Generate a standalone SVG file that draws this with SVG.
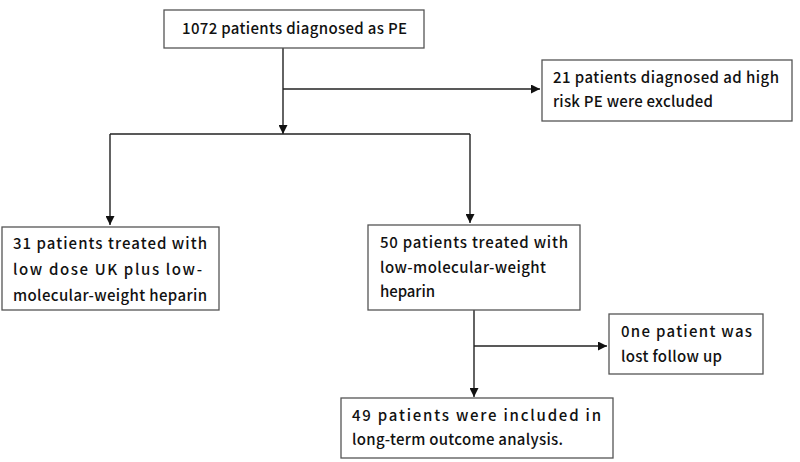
<svg xmlns="http://www.w3.org/2000/svg" width="800" height="462" viewBox="0 0 800 462">
<style>
.box{fill:#fff;stroke:#555;stroke-width:1.3}
.t{font-family:"Noto Sans CJK SC","Noto Sans",sans-serif;font-size:15px;font-weight:500;fill:#111}
.c{fill:none;stroke:#222;stroke-width:1.4}
</style>
<defs>
<marker id="ah" viewBox="0 0 10 10" refX="10" refY="5" markerWidth="9" markerHeight="9" markerUnits="userSpaceOnUse" orient="auto">
<path d="M0,0 L10,5 L0,10 Z" fill="#111"/>
</marker>
</defs>
<rect width="800" height="462" fill="#fff"/>
<g id="connectors">
<line class="c" x1="283" y1="48" x2="283" y2="134" marker-end="url(#ah)"/>
<line class="c" x1="283" y1="89" x2="540" y2="89" marker-end="url(#ah)"/>
<polyline class="c" points="110,134 470,134"/>
<line class="c" x1="110" y1="134" x2="110" y2="225" marker-end="url(#ah)"/>
<line class="c" x1="470" y1="134" x2="470" y2="223" marker-end="url(#ah)"/>
<line class="c" x1="474" y1="310" x2="474" y2="397" marker-end="url(#ah)"/>
<line class="c" x1="474" y1="346" x2="607" y2="346" marker-end="url(#ah)"/>
</g>
<g id="n1">
<rect class="box" x="164" y="10" width="260" height="38"/>
<text class="t" x="182" y="34" textLength="225" lengthAdjust="spacing">1072 patients diagnosed as PE</text>
</g>
<g id="n2">
<rect class="box" x="542" y="60" width="250" height="61"/>
<text class="t" x="553" y="83" textLength="226" lengthAdjust="spacing">21 patients diagnosed ad high</text>
<text class="t" x="553" y="107" textLength="160" lengthAdjust="spacing">risk PE were excluded</text>
</g>
<g id="n3">
<rect class="box" x="2" y="227" width="217" height="83"/>
<text class="t" x="13" y="249" textLength="194" lengthAdjust="spacing">31 patients treated with</text>
<text class="t" x="13" y="275" textLength="189" lengthAdjust="spacing">low dose UK plus low-</text>
<text class="t" x="13" y="301" textLength="194" lengthAdjust="spacing">molecular-weight heparin</text>
</g>
<g id="n4">
<rect class="box" x="368" y="225" width="212" height="85"/>
<text class="t" x="380" y="248" textLength="188" lengthAdjust="spacing">50 patients treated with</text>
<text class="t" x="380" y="273" textLength="166" lengthAdjust="spacing">low-molecular-weight</text>
<text class="t" x="380" y="297" textLength="55" lengthAdjust="spacing">heparin</text>
</g>
<g id="n5">
<rect class="box" x="609" y="314" width="154" height="60"/>
<text class="t" x="621" y="337" textLength="131" lengthAdjust="spacing">0ne patient was</text>
<text class="t" x="621" y="362" textLength="101" lengthAdjust="spacing">lost follow up</text>
</g>
<g id="n6">
<rect class="box" x="341" y="398" width="272" height="60"/>
<text class="t" x="352" y="421" textLength="249" lengthAdjust="spacing">49 patients were included in</text>
<text class="t" x="352" y="445" textLength="211" lengthAdjust="spacing">long-term outcome analysis.</text>
</g>
</svg>
